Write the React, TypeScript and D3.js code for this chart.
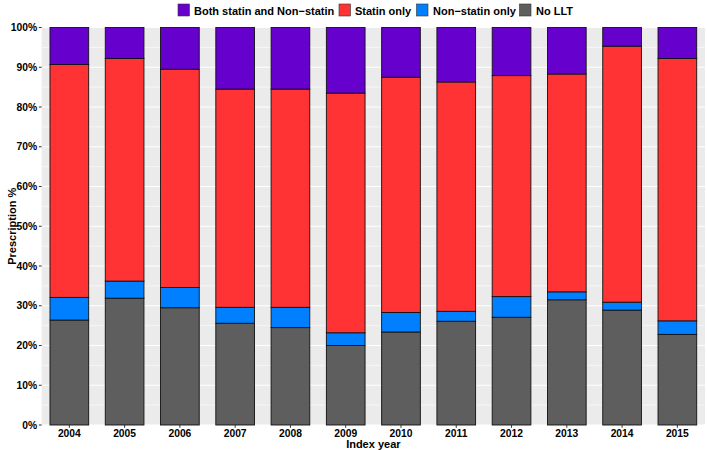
import React from "react";
import * as d3 from "d3";

const years = ["2004","2005","2006","2007","2008","2009","2010","2011","2012","2013","2014","2015"];
// cumulative tops
const noLLT =      [0.264,0.319,0.295,0.256,0.245,0.200,0.234,0.261,0.271,0.315,0.289,0.228];
const nonStatinTop=[0.321,0.362,0.346,0.296,0.296,0.232,0.283,0.286,0.323,0.335,0.309,0.262];
const statinTop =  [0.907,0.922,0.895,0.845,0.845,0.835,0.875,0.863,0.879,0.883,0.953,0.922];

const nonStatin = nonStatinTop.map((v, i) => +(v - noLLT[i]).toFixed(3));
const statin = statinTop.map((v, i) => +(v - nonStatinTop[i]).toFixed(3));
const both = statinTop.map((v) => +(1 - v).toFixed(3));

const seriesKeys = ["noLLT", "nonStatin", "statin", "both"];
const seriesColors = ["#5E5E5E", "#0080FF", "#FF3333", "#6600CC"];
const legendLabels = ["Both statin and Non\u2212statin", "Statin only", "Non\u2212statin only", "No LLT"];
const legendColors = ["#6600CC", "#FF3333", "#0080FF", "#5E5E5E"];
const yTicks = [0, 0.1, 0.2, 0.3, 0.4, 0.5, 0.6, 0.7, 0.8, 0.9, 1.0];

const W = 707, H = 450;
const panel = { left: 41.7, right: 705, top: 27.5, bottom: 425 };
const FONT = "'Liberation Sans', Arial, Helvetica, sans-serif";

export default function App() {
  const rows = years.map((y, i) => ({
    year: y, noLLT: noLLT[i], nonStatin: nonStatin[i], statin: statin[i], both: both[i],
  }));
  const stacked = d3.stack<any>().keys(seriesKeys)(rows);
  const x = d3.scaleBand().domain(years).range([panel.left, panel.right]).paddingInner(0.3).paddingOuter(0.15);
  const y = d3.scaleLinear().domain([0, 1]).range([panel.bottom, panel.top]);
  const minor = d3.range(0.05, 1, 0.1);
  const fmt = d3.format(".0%");

  const legendX = [178, 339, 416.5, 519.5];
  const legendTextX = [194, 355, 433, 536];

  return (
    <svg width={W} height={H} style={{ position: "absolute", left: 0, top: 0 }} fontFamily={FONT}>
      <rect x={panel.left} y={panel.top} width={panel.right - panel.left} height={panel.bottom - panel.top} fill="#EBEBEB" />
      {minor.map((t) => (
        <line key={"mn" + t} x1={panel.left} x2={panel.right} y1={y(t)} y2={y(t)} stroke="#fff" strokeWidth={0.55} />
      ))}
      {yTicks.map((t) => (
        <line key={"mj" + t} x1={panel.left} x2={panel.right} y1={y(t)} y2={y(t)} stroke="#fff" strokeWidth={1.07} />
      ))}
      {years.map((yr) => (
        <line key={"vx" + yr} x1={x(yr)! + x.bandwidth() / 2} x2={x(yr)! + x.bandwidth() / 2} y1={panel.top} y2={panel.bottom} stroke="#fff" strokeWidth={1.07} />
      ))}
      {stacked.map((s, si) => (
        <g key={s.key} fill={seriesColors[si]}>
          {s.map((d, i) => (
            <rect key={i} x={x(years[i])} width={x.bandwidth()} y={y(d[1])} height={y(d[0]) - y(d[1])}
              stroke="#111" strokeWidth={0.9} />
          ))}
        </g>
      ))}
      {yTicks.map((t) => (
        <g key={"yt" + t}>
          <line x1={panel.left - 2.8} x2={panel.left} y1={y(t)} y2={y(t)} stroke="#333" strokeWidth={1} />
          <text x={panel.left - 4.5} y={y(t) + 3.6} textAnchor="end" fontSize={10.3} fontWeight="bold" fill="#000">{fmt(t)}</text>
        </g>
      ))}
      {years.map((yr) => (
        <g key={"xt" + yr}>
          <line x1={x(yr)! + x.bandwidth() / 2} x2={x(yr)! + x.bandwidth() / 2} y1={panel.bottom} y2={panel.bottom + 2.8} stroke="#333" strokeWidth={1} />
          <text x={x(yr)! + x.bandwidth() / 2} y={436.5} textAnchor="middle" fontSize={10.3} fontWeight="bold" fill="#000">{yr}</text>
        </g>
      ))}
      <text x={(panel.left + panel.right) / 2} y={447.5} textAnchor="middle" fontSize={11} fontWeight="bold" fill="#000">Index year</text>
      <text transform={`translate(16.2, ${(panel.top + panel.bottom) / 2}) rotate(-90)`} textAnchor="middle" fontSize={11} fontWeight="bold" fill="#000">Prescription %</text>
      {legendLabels.map((lab, i) => (
        <g key={lab}>
          <rect x={legendX[i]} y={4} width={11.5} height={12} fill={legendColors[i]} stroke="#333" strokeWidth={0.6} />
          <text x={legendTextX[i]} y={14.5} fontSize={11} fontWeight="bold" fill="#000">{lab}</text>
        </g>
      ))}
    </svg>
  );
}
